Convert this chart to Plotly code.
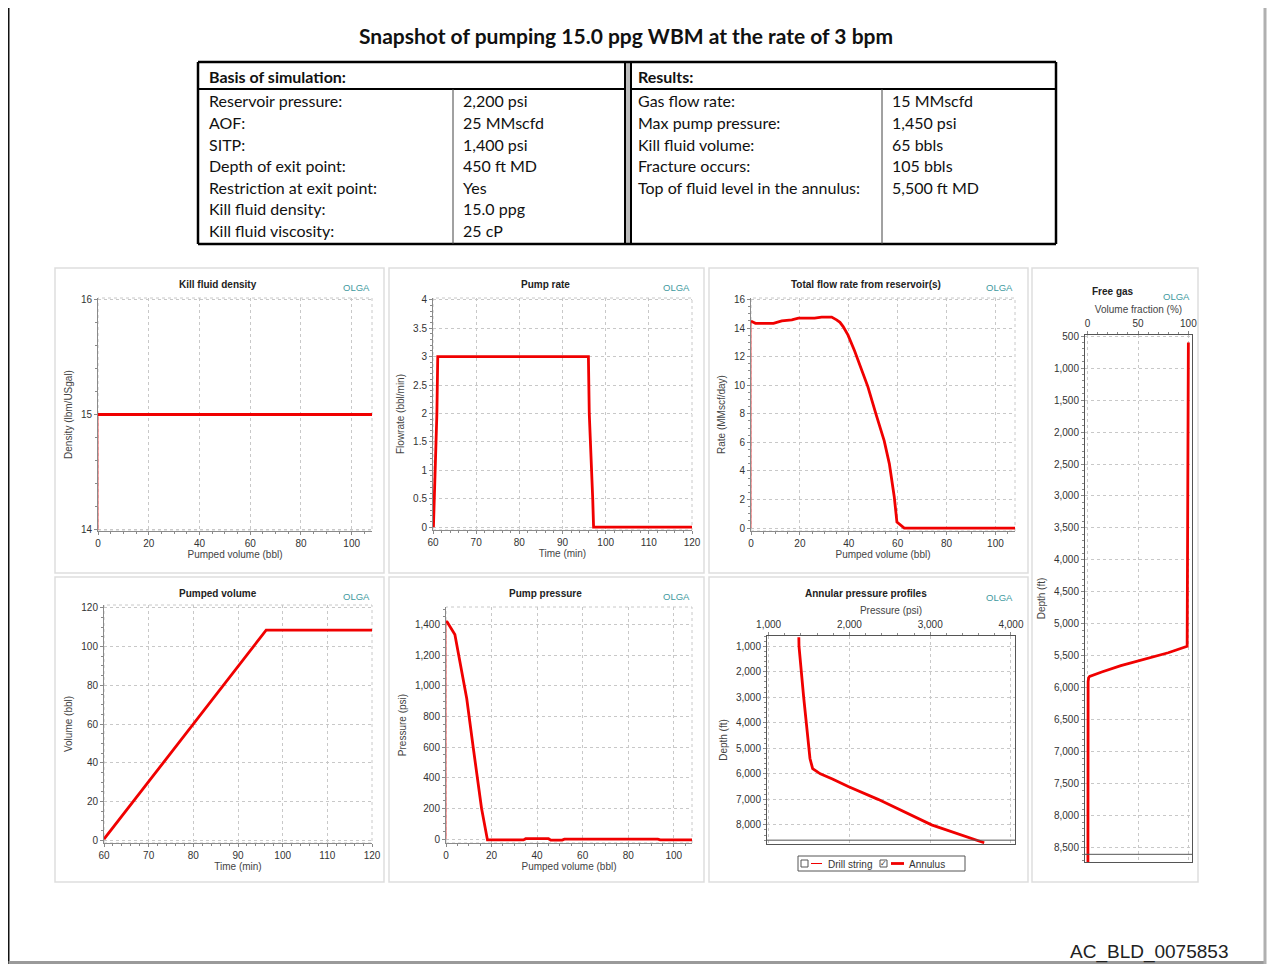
import plotly.graph_objects as go

# The page body has an 8px margin, so the figure is 16px smaller than the window
OFF = 8
FW, FH = 1264, 956

# ---------------- data ----------------
TITLE = "Snapshot of pumping 15.0 ppg WBM at the rate of 3 bpm"
DOC_ID = "AC_BLD_0075853"

BASIS_HEADER = "Basis of simulation:"
BASIS_LABELS = ["Reservoir pressure:", "AOF:", "SITP:", "Depth of exit point:",
                "Restriction at exit point:", "Kill fluid density:", "Kill fluid viscosity:"]
BASIS_VALUES = ["2,200 psi", "25 MMscfd", "1,400 psi", "450 ft MD", "Yes", "15.0 ppg", "25 cP"]

RESULTS_HEADER = "Results:"
RESULTS_LABELS = ["Gas flow rate:", "Max pump pressure:", "Kill fluid volume:",
                  "Fracture occurs:", "Top of fluid level in the annulus:"]
RESULTS_VALUES = ["15 MMscfd", "1,450 psi", "65 bbls", "105 bbls", "5,500 ft MD"]

# Kill fluid density vs pumped volume
DENS_VOL = [0, 0, 108]
DENS_VAL = [14.0, 15.0, 15.0]

# Pump rate vs time
RATE_TIME = [60.1, 60.3, 60.5, 60.7, 60.9, 61.1, 96.0, 96.2, 96.5, 96.8, 97.0, 97.2, 120]
RATE_VAL = [0, 0.5, 1.0, 1.5, 2.0, 3.0, 3.0, 2.0, 1.5, 1.0, 0.5, 0.0, 0.0]

# Total flow rate from reservoir vs pumped volume
FLOW_VOL = [0, 0, 0.4, 1.8, 9.2, 12.6, 16.7, 19.4, 26, 28.9, 33, 35, 36.4, 37.7, 39.7,
            42.4, 45.1, 47.8, 51.1, 54.5, 56.6, 58.6, 59.7, 60.7, 62.7, 108]
FLOW_RATE = [0, 14.4, 14.45, 14.33, 14.33, 14.5, 14.57, 14.69, 14.69, 14.76, 14.76, 14.57,
             14.4, 14.1, 13.5, 12.4, 11.2, 9.9, 8.0, 6.1, 4.5, 2.2, 0.42, 0.3, 0.0, 0.0]

# Pumped volume vs time
PV_TIME = [60, 96.3, 120]
PV_VOL = [0.5, 108.5, 108.5]

# Pump pressure vs pumped volume
PP_VOL = [0, 0, 0.5, 3.9, 5.4, 9.1, 12, 15.6, 18.2, 34, 35, 45, 46, 51, 52, 93, 94, 108]
PP_PSI = [0, 1420, 1418, 1335, 1211, 918, 593, 202, -5, -5, 3, 3, -6, -6, 0, 0, -5, -5]

# Annular pressure profile (annulus)
ANN_DEPTH = [650, 1000, 3000, 5000, 5400, 5800, 6000, 6200, 6500, 7000, 7500, 8000, 8700]
ANN_PSI = [1374, 1376, 1434, 1500, 1512, 1545, 1640, 1790, 1985, 2355, 2686, 3017, 3669]

# Free gas volume fraction vs depth
FG_DEPTH = [600, 2750, 2760, 5350, 5450, 5550, 5650, 5750, 5820, 5840, 5900, 8720]
FG_FRAC = [100, 99.5, 98.8, 98.8, 80, 55, 33, 14, 2, 1, 0.5, 0.3]

WELL_TD = 8600  # bottom of well (ft)

# ---------------- helpers (screen px -> paper) ----------------
def px(x):
    return (x - OFF) / FW

def py(y):
    return 1 - (y - OFF) / FH

RED = "#f00000"
GRID = "#c8c8c8"
AXC = "#8a8a8a"
TXT = "#333333"
TEAL = "#3f9aa0"
FONT = "Liberation Sans"
TFONT = "Lato"
LW = 2.8

fig = go.Figure()
shapes = []
ann = []

def add_axes(n, xpx, ypx, xr, yr, xtitle, ytitle, xdtick, ydtick, xfmt="", yfmt="",
             xside="bottom", yrev=False, boxed=False):
    xa = "xaxis" if n == 1 else f"xaxis{n}"
    ya = "yaxis" if n == 1 else f"yaxis{n}"
    common = dict(
        showline=True, linecolor=AXC, linewidth=1, ticks="outside", ticklen=3,
        tickcolor=AXC, tickfont=dict(family=FONT, size=10, color=TXT),
        showgrid=True, gridcolor=GRID, griddash="dot", gridwidth=1, zeroline=False,
        minor=dict(ticks="outside", ticklen=2, tickcolor=AXC, showgrid=False),
        mirror=boxed, automargin=False,
    )
    xlay = dict(common, domain=[px(xpx[0]), px(xpx[1])], range=xr, dtick=xdtick,
                tickformat=xfmt, anchor=f"y{'' if n == 1 else n}", side=xside,
                title=dict(text=xtitle, font=dict(family=FONT, size=10, color="#444"),
                           standoff=2))
    yrange = [yr[1], yr[0]] if yrev else yr
    ylay = dict(common, domain=[py(ypx[1]), py(ypx[0])], range=yrange, dtick=ydtick,
                tickformat=yfmt, anchor=f"x{'' if n == 1 else n}",
                title=dict(text=ytitle, font=dict(family=FONT, size=10, color="#444"),
                           standoff=6))
    if boxed:
        xlay["linecolor"] = "#555"
        ylay["linecolor"] = "#555"
    fig.update_layout(**{xa: xlay, ya: ylay})
    if not boxed:
        shapes.append(dict(type="rect", xref=f"x{'' if n == 1 else n} domain",
                           yref=f"y{'' if n == 1 else n} domain", x0=0, x1=1, y0=0, y1=1,
                           line=dict(color=GRID, width=1, dash="dot"), layer="below"))

def add_series(n, xs, ys, thin_first=True):
    xr = "x" if n == 1 else f"x{n}"
    yr = "y" if n == 1 else f"y{n}"
    if thin_first:
        fig.add_trace(go.Scatter(x=xs[:2], y=ys[:2], mode="lines", xaxis=xr, yaxis=yr,
                                 line=dict(color="#f05050", width=1), showlegend=False,
                                 hoverinfo="skip"))
        xs, ys = xs[1:], ys[1:]
    fig.add_trace(go.Scatter(x=xs, y=ys, mode="lines", xaxis=xr, yaxis=yr,
                             line=dict(color=RED, width=LW), showlegend=False))

def panel(x0, y0, x1, y1, title, tx, ty, ox, oy):
    shapes.append(dict(type="rect", xref="paper", yref="paper", x0=px(x0), x1=px(x1),
                       y0=py(y1), y1=py(y0), line=dict(color="#dedede", width=1.5),
                       layer="below"))
    ann.append(dict(text=f"<b>{title}</b>", x=px(tx), y=py(ty), xref="paper", yref="paper",
                    showarrow=False, xanchor="center", yanchor="middle",
                    font=dict(family=FONT, size=10, color="#222")))
    ann.append(dict(text="OLGA", x=px(ox), y=py(oy), xref="paper", yref="paper",
                    showarrow=False, xanchor="right", yanchor="middle",
                    font=dict(family=FONT, size=9.5, color=TEAL)))

# ---------------- panels ----------------
panel(55, 268, 384, 573, "Kill fluid density", 218, 284, 372, 287)
panel(389, 268, 704, 573, "Pump rate", 545, 284, 692, 287)
panel(709, 268, 1028, 573, "Total flow rate from reservoir(s)", 866, 284, 1015, 287)
panel(1032, 268, 1198, 882, "Free gas", 1113, 292, 1192, 296)
panel(55, 577, 384, 882, "Pumped volume", 218, 593, 372, 596)
panel(389, 577, 704, 882, "Pump pressure", 545, 593, 692, 596)
panel(709, 577, 1028, 882, "Annular pressure profiles", 866, 593, 1015, 597)

add_axes(1, (98, 372), (298, 531), [0, 108], [13.99, 16.01],
         "Pumped volume (bbl)", "Density (lbm/USgal)", 20, 1)
add_series(1, DENS_VOL, DENS_VAL)

add_axes(2, (433, 692), (298, 530), [60, 120], [-0.05, 4.03],
         "Time (min)", "Flowrate (bbl/min)", 10, 0.5)
add_series(2, RATE_TIME, RATE_VAL, thin_first=False)

add_axes(3, (751, 1015), (298, 531), [0, 108], [-0.2, 16.1],
         "Pumped volume (bbl)", "Rate (MMscf/day)", 20, 2)
add_series(3, FLOW_VOL, FLOW_RATE)

add_axes(4, (1085, 1192), (335, 862), [-2.6, 103.6], [484, 8720],
         "Volume fraction (%)", "Depth (ft)", 50, 500, yfmt=",d", xside="top",
         yrev=True, boxed=True)
add_series(4, FG_FRAC, FG_DEPTH, thin_first=False)

add_axes(5, (104, 372), (605, 843), [60, 120], [-1.5, 121.5],
         "Time (min)", "Volume (bbl)", 10, 20)
add_series(5, PV_TIME, PV_VOL, thin_first=False)

add_axes(6, (446, 692), (607, 843), [0, 108], [-25, 1515],
         "Pumped volume (bbl)", "Pressure (psi)", 20, 200, yfmt=",d")
add_series(6, PP_VOL, PP_PSI)

add_axes(7, (767, 1015), (636, 844), [980, 4050], [600, 8750],
         "Pressure (psi)", "Depth (ft)", 1000, 1000, xfmt=",d", yfmt=",d", xside="top",
         yrev=True, boxed=True)
add_series(7, ANN_PSI, ANN_DEPTH, thin_first=False)

# well bottom lines
for n in (4, 7):
    shapes.append(dict(type="line", xref=f"x{n} domain", yref=f"y{n}", x0=0, x1=1,
                       y0=WELL_TD, y1=WELL_TD, line=dict(color="#555", width=1)))

# annular legend (drawn)
shapes.append(dict(type="rect", xref="paper", yref="paper", x0=px(798), x1=px(965),
                   y0=py(871), y1=py(856), line=dict(color="#555", width=1)))
shapes.append(dict(type="rect", xref="paper", yref="paper", x0=px(801), x1=px(808),
                   y0=py(867), y1=py(860), line=dict(color="#555", width=1)))
shapes.append(dict(type="line", xref="paper", yref="paper", x0=px(811), x1=px(822),
                   y0=py(863.5), y1=py(863.5), line=dict(color=RED, width=1)))
shapes.append(dict(type="rect", xref="paper", yref="paper", x0=px(880), x1=px(887),
                   y0=py(867), y1=py(860), line=dict(color="#555", width=1)))
shapes.append(dict(type="line", xref="paper", yref="paper", x0=px(891), x1=px(904),
                   y0=py(863.5), y1=py(863.5), line=dict(color=RED, width=LW)))
ann.append(dict(text="✓", x=px(883.5), y=py(863.5), xref="paper", yref="paper",
                showarrow=False, xanchor="center", yanchor="middle",
                font=dict(family="DejaVu Sans", size=8, color="#333")))
ann.append(dict(text="Drill string", x=px(826), y=py(864), xref="paper", yref="paper",
                showarrow=False, xanchor="left", yanchor="middle",
                font=dict(family=FONT, size=10, color=TXT)))
ann.append(dict(text="Annulus", x=px(907), y=py(864), xref="paper", yref="paper",
                showarrow=False, xanchor="left", yanchor="middle",
                font=dict(family=FONT, size=10, color=TXT)))

# ---------------- table ----------------
def hline(x0, x1, y, w=1, c="#000"):
    shapes.append(dict(type="line", xref="paper", yref="paper", x0=px(x0), x1=px(x1),
                       y0=py(y), y1=py(y), line=dict(color=c, width=w)))

def vline(x, y0, y1, w=1, c="#000"):
    shapes.append(dict(type="line", xref="paper", yref="paper", x0=px(x), x1=px(x),
                       y0=py(y0), y1=py(y1), line=dict(color=c, width=w)))

shapes.append(dict(type="rect", xref="paper", yref="paper", x0=px(626), x1=px(630),
                   y0=py(244), y1=py(62), fillcolor="#bbbbbb", line=dict(width=0)))
hline(198, 1056, 62, 2.5)
hline(198, 1056, 244, 2.5)
vline(198, 62, 244, 2.5)
vline(1056, 62, 244, 2.5)
vline(625, 62, 244, 2)
vline(631, 62, 244, 2)
hline(198, 625, 89, 2)
hline(631, 1056, 89, 2)
vline(453, 89, 244, 1, "#444")
vline(882, 89, 244, 1, "#444")

def tx(text, x, y, size=16, bold=False, anchor="left", family=TFONT, color="#111"):
    ann.append(dict(text=f"<b>{text}</b>" if bold else text, x=px(x), y=py(y),
                    xref="paper", yref="paper", showarrow=False, xanchor=anchor,
                    yanchor="middle", font=dict(family=family, size=size, color=color)))

tx(TITLE, 626, 35, size=21, bold=True, anchor="center")
tx(BASIS_HEADER, 207, 76, bold=True)
tx(RESULTS_HEADER, 636, 76, bold=True)
for i, (l, v) in enumerate(zip(BASIS_LABELS, BASIS_VALUES)):
    tx(l, 207, 101 + i * 21.6)
    tx(v, 461, 101 + i * 21.6)
for i, (l, v) in enumerate(zip(RESULTS_LABELS, RESULTS_VALUES)):
    tx(l, 636, 101 + i * 21.6)
    tx(v, 890, 101 + i * 21.6)

tx(DOC_ID, 1230, 952, size=19, anchor="right", family=FONT, color="#222")

# page borders
vline(8.5, OFF, 964, 2, "#111")
hline(8.5, 1266, 962.5, 3, "#9a9a9a")
vline(1265, OFF, 964, 3, "#b0b0b0")

fig.update_layout(width=FW, height=FH, margin=dict(l=0, r=0, t=0, b=0),
                  paper_bgcolor="white", plot_bgcolor="white", showlegend=False,
                  shapes=shapes, annotations=ann)

fig.write_html("out.html")
